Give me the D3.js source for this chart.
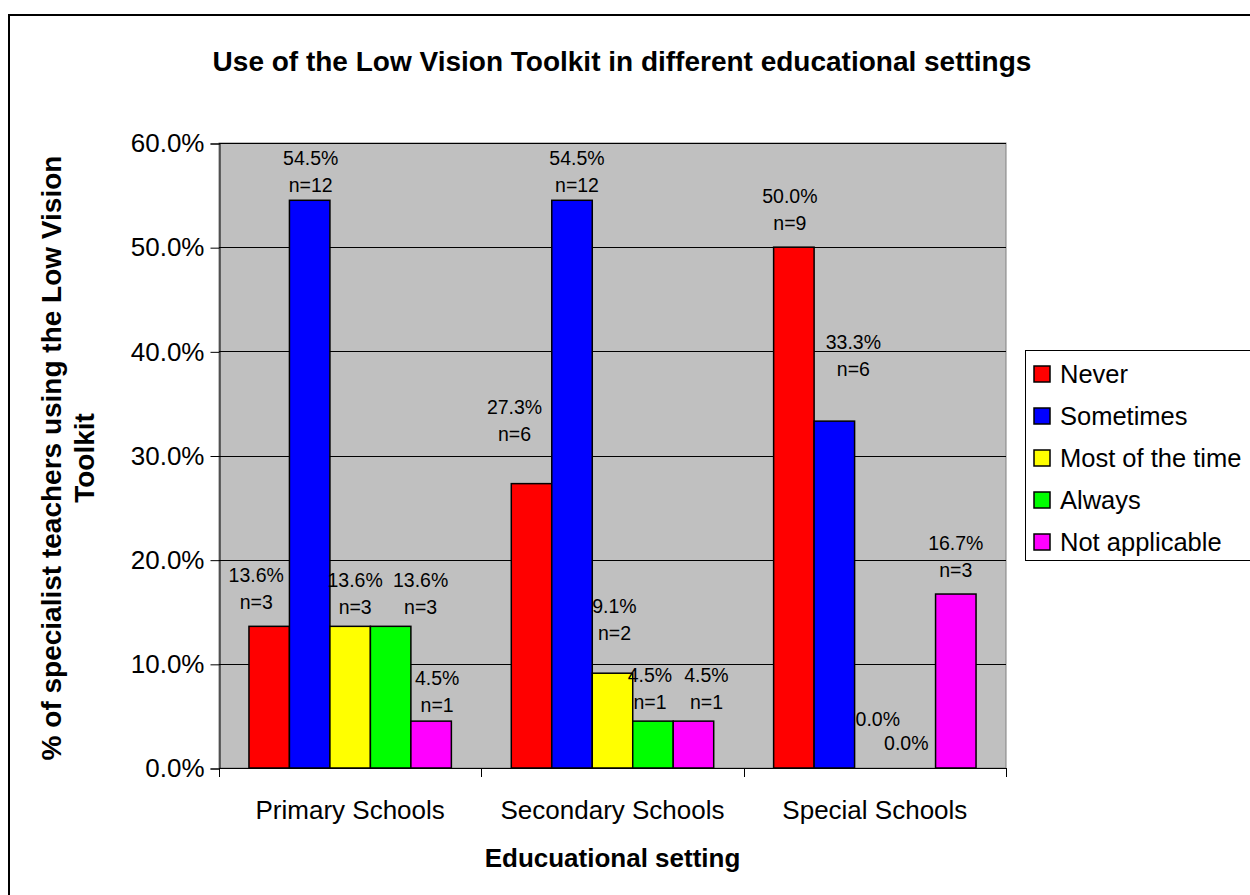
<!DOCTYPE html>
<html>
<head>
<meta charset="utf-8">
<script src="https://cdn.jsdelivr.net/npm/d3@7"></script>
<style>
  body { margin: 0; background: #fff; }
  text { font-family: "Liberation Sans", Arial, sans-serif; }
</style>
</head>
<body>
<div id="chart"></div>
<script>
var settings = ["Primary Schools", "Secondary Schools", "Special Schools"];
var responses = ["Never", "Sometimes", "Most of the time", "Always", "Not applicable"];
var colors = ["#ff0000", "#0000ff", "#ffff00", "#00ff00", "#ff00ff"];
// percent per setting, in the order of responses
var percents = [
    [13.6, 54.5, 13.6, 13.6, 4.5],
    [27.3, 54.5, 9.1, 4.5, 4.5],
    [50.0, 33.3, 0.0, 0.0, 16.7]
];
var counts = [
    [3, 12, 3, 3, 1],
    [6, 12, 2, 1, 1],
    [9, 6, 0, 0, 3]
];
var yTicks = [0, 10, 20, 30, 40, 50, 60];

// hand-dragged label positions in the original, as [dx, dy] from the default spot
var labelNudge = [
    [[-13, 0], [1, 9], [5, 5], [30, 5], [6, 8]],
    [[-17, -26], [5, 9], [2, -16], [-3, 5], [13, 5]],
    [[-4, 0], [19, -28], [3, 2], [-9, 26], [0, 0]]
];

var W = 1250, H = 895;
var plotL = 219, plotR = 1006, plotT = 143, plotB = 768;

var svg = d3.select("#chart").append("svg")
    .attr("width", W)
    .attr("height", H);

// outer frame
svg.append("rect")
    .attr("x", 9).attr("y", 15)
    .attr("width", 1400).attr("height", 1000)
    .attr("fill", "none").attr("stroke", "#000").attr("stroke-width", 2);

let x0 = d3.scaleBand().domain(settings).range([plotL, plotR]).paddingInner(0).paddingOuter(0);
let x1 = d3.scaleBand().domain(responses).range([0, x0.bandwidth()]).paddingOuter(0.74).paddingInner(0);
let y = d3.scaleLinear().domain([0, 60]).range([plotB, plotT]);

// plot area
svg.append("rect")
    .attr("x", plotL).attr("y", plotT)
    .attr("width", plotR - plotL).attr("height", plotB - plotT)
    .attr("fill", "#c0c0c0").attr("stroke", "#808080").attr("stroke-width", 1);

// gridlines
yTicks.forEach(t => {
    svg.append("line")
        .attr("x1", plotL).attr("x2", plotR)
        .attr("y1", Math.round(y(t)) + 0.5).attr("y2", Math.round(y(t)) + 0.5)
        .attr("stroke", "#000").attr("stroke-width", 1);
});

// y axis
let yAxis = d3.axisLeft(y).tickValues(yTicks).tickSize(9).tickPadding(6)
    .tickFormat(d => d.toFixed(1) + "%");
let gy = svg.append("g").attr("transform", "translate(" + (plotL + 0.5) + ",0.5)").call(yAxis);
gy.select(".domain").attr("stroke", "#000");
gy.selectAll("line").attr("stroke", "#000");
gy.selectAll("text").attr("font-size", 26).attr("fill", "#000")
    .attr("font-family", "Liberation Sans, Arial, sans-serif");

// x axis
svg.append("line")
    .attr("x1", plotL).attr("x2", plotR)
    .attr("y1", plotB + 0.5).attr("y2", plotB + 0.5)
    .attr("stroke", "#000");
settings.concat([null]).forEach((s, i) => {
    let xx = Math.round(i < settings.length ? x0(s) : plotR) + 0.5;
    svg.append("line")
        .attr("x1", xx).attr("x2", xx)
        .attr("y1", plotB).attr("y2", plotB + 9)
        .attr("stroke", "#000");
});
settings.forEach(s => {
    svg.append("text")
        .attr("x", x0(s) + x0.bandwidth() / 2)
        .attr("y", plotB + 51)
        .attr("text-anchor", "middle")
        .attr("font-size", 26)
        .text(s);
});

// bars
settings.forEach((s, i) => {
    let g = svg.append("g").attr("transform", "translate(" + x0(s) + ",0)");
    responses.forEach((r, j) => {
        let v = percents[i][j];
        g.append("rect")
            .attr("x", x1(r))
            .attr("y", y(v))
            .attr("width", x1.bandwidth())
            .attr("height", plotB - y(v))
            .attr("fill", colors[j])
            .attr("stroke", "#000")
            .attr("stroke-width", v > 0 ? 1.5 : 0);
    });
});

// data labels
settings.forEach((s, i) => {
    responses.forEach((r, j) => {
        let v = percents[i][j];
        let nd = labelNudge[i][j];
        let cx = x0(s) + x1(r) + x1.bandwidth() / 2 + nd[0];
        let base = y(v) - 44 + nd[1];
        svg.append("text").attr("x", cx).attr("y", base)
            .attr("text-anchor", "middle").attr("font-size", 19.5)
            .text(v.toFixed(1) + "%");
        if (counts[i][j] > 0) {
            svg.append("text").attr("x", cx).attr("y", base + 27)
                .attr("text-anchor", "middle").attr("font-size", 19.5)
                .text("n=" + counts[i][j]);
        }
    });
});

// title
svg.append("text")
    .attr("x", 622).attr("y", 71)
    .attr("text-anchor", "middle")
    .attr("font-size", 28).attr("font-weight", "bold")
    .text("Use of the Low Vision Toolkit in different educational settings");

// axis titles
svg.append("text")
    .attr("x", (plotL + plotR) / 2).attr("y", plotB + 99)
    .attr("text-anchor", "middle")
    .attr("font-size", 26).attr("font-weight", "bold")
    .text("Educuational setting");

let yt = svg.append("text")
    .attr("transform", "translate(61,458) rotate(-90)")
    .attr("text-anchor", "middle")
    .attr("font-size", 28).attr("font-weight", "bold");
yt.append("tspan").attr("x", 0).attr("dy", 0).text("% of specialist teachers using the Low Vision");
yt.append("tspan").attr("x", 0).attr("dy", 33).text("Toolkit");

// legend
let lg = svg.append("g").attr("transform", "translate(1025,350)");
lg.append("rect")
    .attr("x", 0.5).attr("y", 0.5)
    .attr("width", 300).attr("height", 210)
    .attr("fill", "#fff").attr("stroke", "#000");
responses.forEach((r, j) => {
    lg.append("rect")
        .attr("x", 9).attr("y", 16 + j * 42)
        .attr("width", 16).attr("height", 16)
        .attr("fill", colors[j]).attr("stroke", "#000").attr("stroke-width", 1.5);
    lg.append("text")
        .attr("x", 35).attr("y", 33 + j * 42)
        .attr("font-size", 25.5)
        .text(r);
});
</script>
</body>
</html>
